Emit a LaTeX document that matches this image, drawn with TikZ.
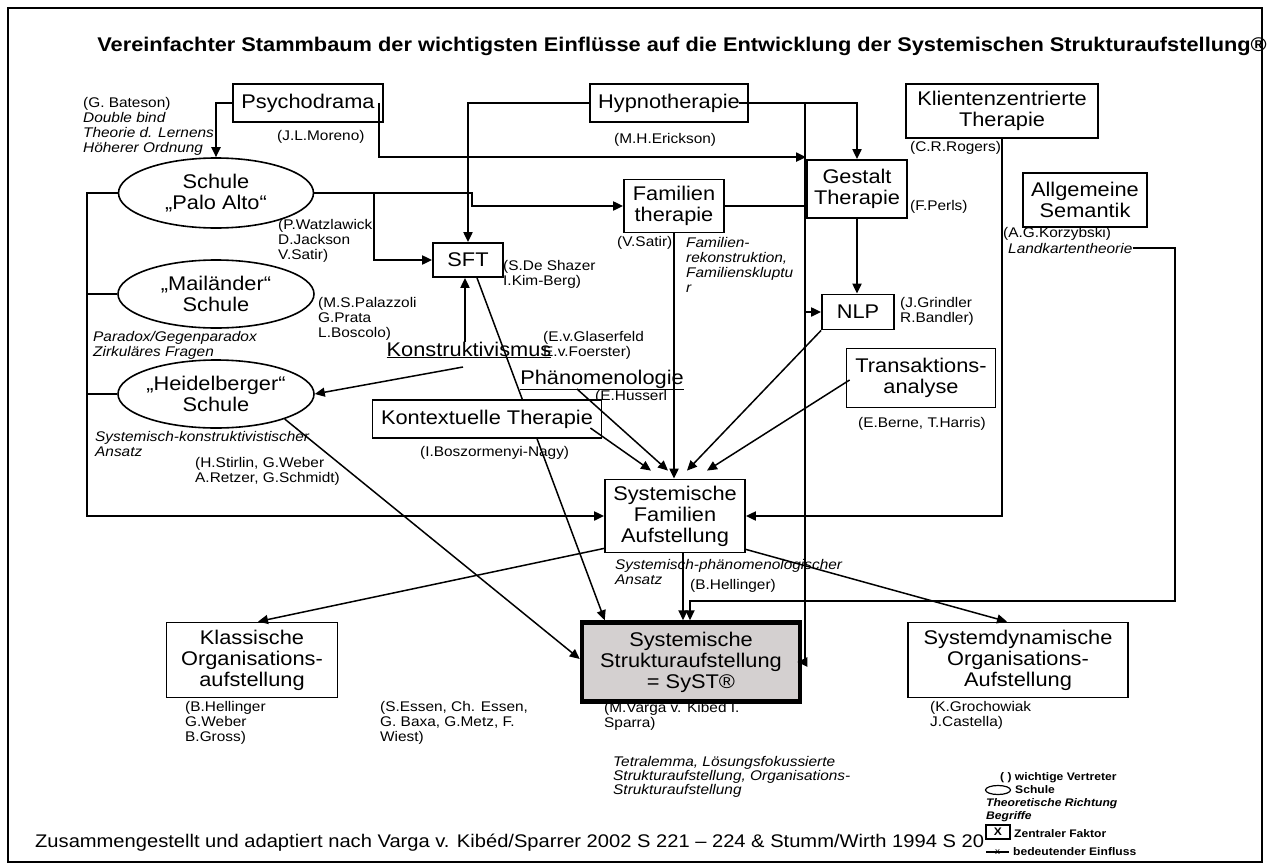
\documentclass[tikz,border=0pt]{standalone}
\usepackage{fontspec}
\setmainfont{Liberation Sans}[FakeStretch=1.1]
\usepackage{tikz}
\usetikzlibrary{shapes.geometric, arrows.meta, positioning, calc}
\definecolor{systgray}{RGB}{212,208,208}
\newcommand{\boxsize}{\fontsize{19.8}{21}\selectfont}
\newcommand{\lblsize}{\fontsize{14}{15}\selectfont}
\newcommand{\legsize}{\fontsize{11}{12}\selectfont\bfseries}
\pgfdeclarelayer{bg}
\pgfsetlayers{bg,main}
\tikzset{
    box/.style={rectangle, draw, line width=1.8pt, fill=white, text centered, align=center, inner sep=1pt, font=\boxsize},
    school/.style={ellipse, draw, line width=1.6pt, fill=white, align=center, inner xsep=-3pt, inner ysep=0pt, font=\boxsize},
    term/.style={inner sep=0pt, font=\boxsize},
    lbl/.style={anchor=north west, inner sep=0pt, align=left, font=\lblsize},
    note/.style={lbl, font=\lblsize\itshape},
    legend/.style={anchor=west, inner sep=0pt, font=\legsize},
    flow/.style={-{Triangle[length=10pt, width=9pt]}, line width=2pt},
    link/.style={-{Triangle[length=10pt, width=9pt]}, line width=1.5pt},
    joint/.style={line width=2pt}
}

\begin{document}
\begin{tikzpicture}[x=1pt, y=-1pt,
    central/.style={box, line width=4.5pt, fill=systgray, minimum width=218pt, minimum height=79pt}
]
    \useasboundingbox (0,0) rectangle (1270,868);
    \draw[line width=1.5pt] (8,8) rectangle (1262,862);

    % Title
    \node[anchor=east, inner sep=0pt, font=\fontsize{19.8}{20}\selectfont\bfseries] (title) at (1267,46)
        {Vereinfachter Stammbaum der wichtigsten Einflüsse auf die Entwicklung der Systemischen Strukturaufstellung®};

    % Top row
    \node[box, minimum width=150pt, minimum height=38pt] (psycho) at (308,103) {Psychodrama};
    \node[box, minimum width=158pt, minimum height=38pt] (hypno) at (669,103) {Hypnotherapie};
    \node[box, minimum width=192pt, minimum height=54pt] (klient) at (1002,111) {Klientenzentrierte\\Therapie};
    \node[box, minimum width=124pt, minimum height=54pt] (semantik) at (1085,200) {Allgemeine\\Semantik};

    % Schools
    \node[school, minimum width=195pt, minimum height=70pt] (paloalto) at (216,193) {Schule\\„Palo Alto“};
    \node[school, minimum width=196pt, minimum height=68pt] (mailand) at (216,294) {„Mailänder“\\Schule};
    \node[school, minimum width=196pt, minimum height=68pt] (heidel) at (216,394) {„Heidelberger“\\Schule};

    % Middle
    \node[box, minimum width=100pt, minimum height=53pt] (famther) at (674,206) {Familien\\therapie};
    \node[box, minimum width=100pt, minimum height=58pt] (gestalt) at (857,189) {Gestalt\\Therapie};
    \node[box, minimum width=70pt, minimum height=34pt] (sft) at (468,260) {SFT};
    \node[box, minimum width=72pt, minimum height=35pt] (nlp) at (858,312) {NLP};
    \node[term] (konstr) at (469,350) {\underline{Konstruktivismus}};
    \node[term] (phaeno) at (602,380) {\underline{Phänomenologie}};
    \node[box, minimum width=149pt, minimum height=59pt] (transakt) at (921,378) {Transaktions-\\analyse};

    % Names and notes
    \node[lbl] (bateson) at (83,97.5) {(G. Bateson)\\\textit{Double bind}\\\textit{Theorie d. Lernens}\\\textit{Höherer Ordnung}};
    \node[lbl] (moreno) at (277,130.5) {(J.L.Moreno)};
    \node[lbl] (erickson) at (614,133.5) {(M.H.Erickson)};
    \node[lbl] (rogers) at (910,141.5) {(C.R.Rogers)};
    \node[lbl] (perls) at (910,200.5) {(F.Perls)};
    \node[lbl] (watzlawick) at (278,219.5) {(P.Watzlawick\\D.Jackson\\V.Satir)};
    \node[lbl] (satir) at (617,236.5) {(V.Satir)};
    \node[note] (famrekon) at (686,237.5) {Familien-\\rekonstruktion,\\Familienskluptu\\r};
    \node[lbl] (deshazer) at (503,260.5) {(S.De Shazer\\I.Kim-Berg)};
    \node[lbl] (korzybski) at (1003,227.5) {(A.G.Korzybski)};
    \node[note, anchor=west] (landkarte) at (1008,248) {Landkartentheorie};
    \node[lbl] (grindler) at (900,297.5) {(J.Grindler\\R.Bandler)};
    \node[lbl] (palazzoli) at (318,297.5) {(M.S.Palazzoli\\G.Prata\\L.Boscolo)};
    \node[note] (paradox) at (93,331.5) {Paradox/Gegenparadox\\Zirkuläres Fragen};
    \node[lbl] (glaserfeld) at (543,331.5) {(E.v.Glaserfeld\\E.v.Foerster)};
    \node[lbl] (husserl) at (595,390.5) {(E.Husserl};
    \node[note] (systkonstr) at (95,431.5) {Systemisch-konstruktivistischer\\Ansatz};
    \node[lbl] (stirlin) at (195,457.5) {(H.Stirlin, G.Weber\\A.Retzer, G.Schmidt)};
    \node[lbl] (berne) at (858,417.5) {(E.Berne, T.Harris)};
    \node[lbl] (boszormenyi) at (420,446.5) {(I.Boszormenyi-Nagy)};
    \node[note] (systphaeno) at (615,559.5) {Systemisch-phänomenologischer\\Ansatz};
    \node[lbl] (hellinger) at (690,579.5) {(B.Hellinger)};
    \node[lbl] (hellingerweber) at (185,701.5) {(B.Hellinger\\G.Weber\\B.Gross)};
    \node[lbl] (essen) at (380,701.5) {(S.Essen, Ch. Essen,\\G. Baxa, G.Metz, F.\\Wiest)};
    \node[lbl] (varga) at (604,702.5) {(M.Varga v. Kibed I.\\Sparra)};
    \node[lbl] (grochowiak) at (930,701.5) {(K.Grochowiak\\J.Castella)};
    \node[note, font=\fontsize{14}{14}\selectfont\itshape] (tetralemma) at (613,756.5)
        {Tetralemma, Lösungsfokussierte\\Strukturaufstellung, Organisations-\\Strukturaufstellung};

    % Lower part
    \node[box, minimum width=229pt, minimum height=38pt] (kontext) at (487,419) {Kontextuelle Therapie};
    \node[box, minimum width=140pt, minimum height=73pt] (sfa) at (675,516) {Systemische\\Familien\\Aufstellung};
    \node[central] (syst) at (691,662) {Systemische\\Strukturaufstellung\\= SyST®};
    \node[box, minimum width=171pt, minimum height=75pt] (klassisch) at (252,660) {Klassische\\Organisations-\\aufstellung};
    \node[box, minimum width=220pt, minimum height=75pt] (sysdyn) at (1018,660) {Systemdynamische\\Organisations-\\Aufstellung};

    % Source line
    \node[anchor=west, inner sep=0pt, font=\fontsize{18.3}{18}\selectfont] (source) at (35,843)
        {Zusammengestellt und adaptiert nach Varga v. Kibéd/Sparrer 2002 S 221 – 224 \& Stumm/Wirth 1994 S 20};

    % Legend
    \node[school, minimum width=25pt, minimum height=9pt, line width=1.2pt, font=\legsize] (lgschool) at (998,790) {};
    \node[legend] (lgvertreter) at (1000,778) {( ) wichtige Vertreter};
    \node[legend] (lgschule) at (1015,790) {Schule};
    \node[legend, font=\legsize\itshape] (lgrichtung) at (986,804) {Theoretische Richtung};
    \node[legend, font=\legsize\itshape] (lgbegriffe) at (986,817) {Begriffe};
    \node[draw, line width=1.2pt, fill=white, minimum width=24pt, minimum height=14pt, inner sep=0pt, font=\legsize] (lgbox) at (998,832) {X};
    \node[legend] (lgzentral) at (1014,834) {Zentraler Faktor};
    \coordinate (lgfrom) at (986,852);
    \coordinate (lgto) at (1009,852);
    \draw[line width=1.2pt] (lgfrom) -- (lgto) node[midway, inner sep=0pt, font=\fontsize{9}{9}\selectfont] (lgx) {x};
    \node[legend] (lgeinfluss) at (1013,852) {bedeutender Einfluss};

    % Psychodrama and Hypnotherapie
    \draw[flow] (psycho.west) -| (paloalto.north);
    \draw[flow] ($(psycho.east)+(-5,0)$) |- ($(gestalt.north west)+(0,-2)$);
    \draw[flow] (hypno.west) -| (sft.north);
    \draw[flow] ($(hypno.east)+(-10,0)$) -| (gestalt.north);
    \coordinate (rail) at (805,103);
    \draw[flow] (rail) |- ($(syst.east)+(-5,0)$);
    \draw[joint] (famther.east) -- (famther.east -| rail);
    \draw[flow] (nlp.west -| rail) -- (nlp.west);
    \draw[flow] (gestalt.south) -- (gestalt.south |- nlp.north);

    % Schools
    \coordinate (pabend) at (472,193);
    \coordinate (pabranch) at (374,193);
    \coordinate (schoolrail) at (87,193);
    \draw[flow] (paloalto.east) -- (pabend) |- (famther.west);
    \draw[flow] (pabranch) |- (sft.west);
    \draw[flow] (paloalto.west) -- (schoolrail) |- (sfa.west);
    \draw[joint] (mailand.west) -- (mailand.west -| schoolrail);
    \draw[joint] (heidel.west) -- (heidel.west -| schoolrail);

    % Into Systemische Familien Aufstellung
    \draw[flow] (famther.south) -- (famther.south |- sfa.north);
    \draw[link] ($(kontext.east)+(-12,9)$) -- ($(sfa.north)+(-24,-8)$);
    \draw[link] ($(phaeno.center)+(-25,9)$) -- ($(sfa.north)+(-7,-8)$);
    \draw[link] (nlp.south west) -- ($(sfa.north)+(12,-8)$);
    \draw[link] ($(transakt.west)+(4,2)$) -- ($(sfa.north)+(32,-8)$);
    \draw[flow] (klient.south) |- (sfa.east);

    % Konstruktivismus
    \draw[flow] ($(konstr.north)+(-4,0)$) -- ($(sft.south)+(-3,0)$);
    \draw[link] ($(konstr.center)+(-6,17)$) -- (heidel.east);

    % Into SyST
    \begin{pgfonlayer}{bg}
        \draw[link] ($(sft.south)+(9,0)$) -- ($(syst.north west)+(25,0)$);
    \end{pgfonlayer}
    \draw[link] (heidel.-20) -- ($(syst.west)+(0,-3)$);
    \coordinate (mapcorner) at (1175,601);
    \draw[flow] (landkarte.east) -| (mapcorner) -| ($(syst.north)+(-1,0)$);
    \draw[flow] ($(sfa.south)+(8,0)$) -- ($(syst.north)+(-8,0)$);

    % Organisation
    \draw[link] ($(sfa.south west)+(0,-5)$) -- ($(klassisch.north)+(6,0)$);
    \draw[link] ($(sfa.south east)+(0,-4)$) -- ($(sysdyn.north)+(-11,0)$);
\end{tikzpicture}
\end{document}
